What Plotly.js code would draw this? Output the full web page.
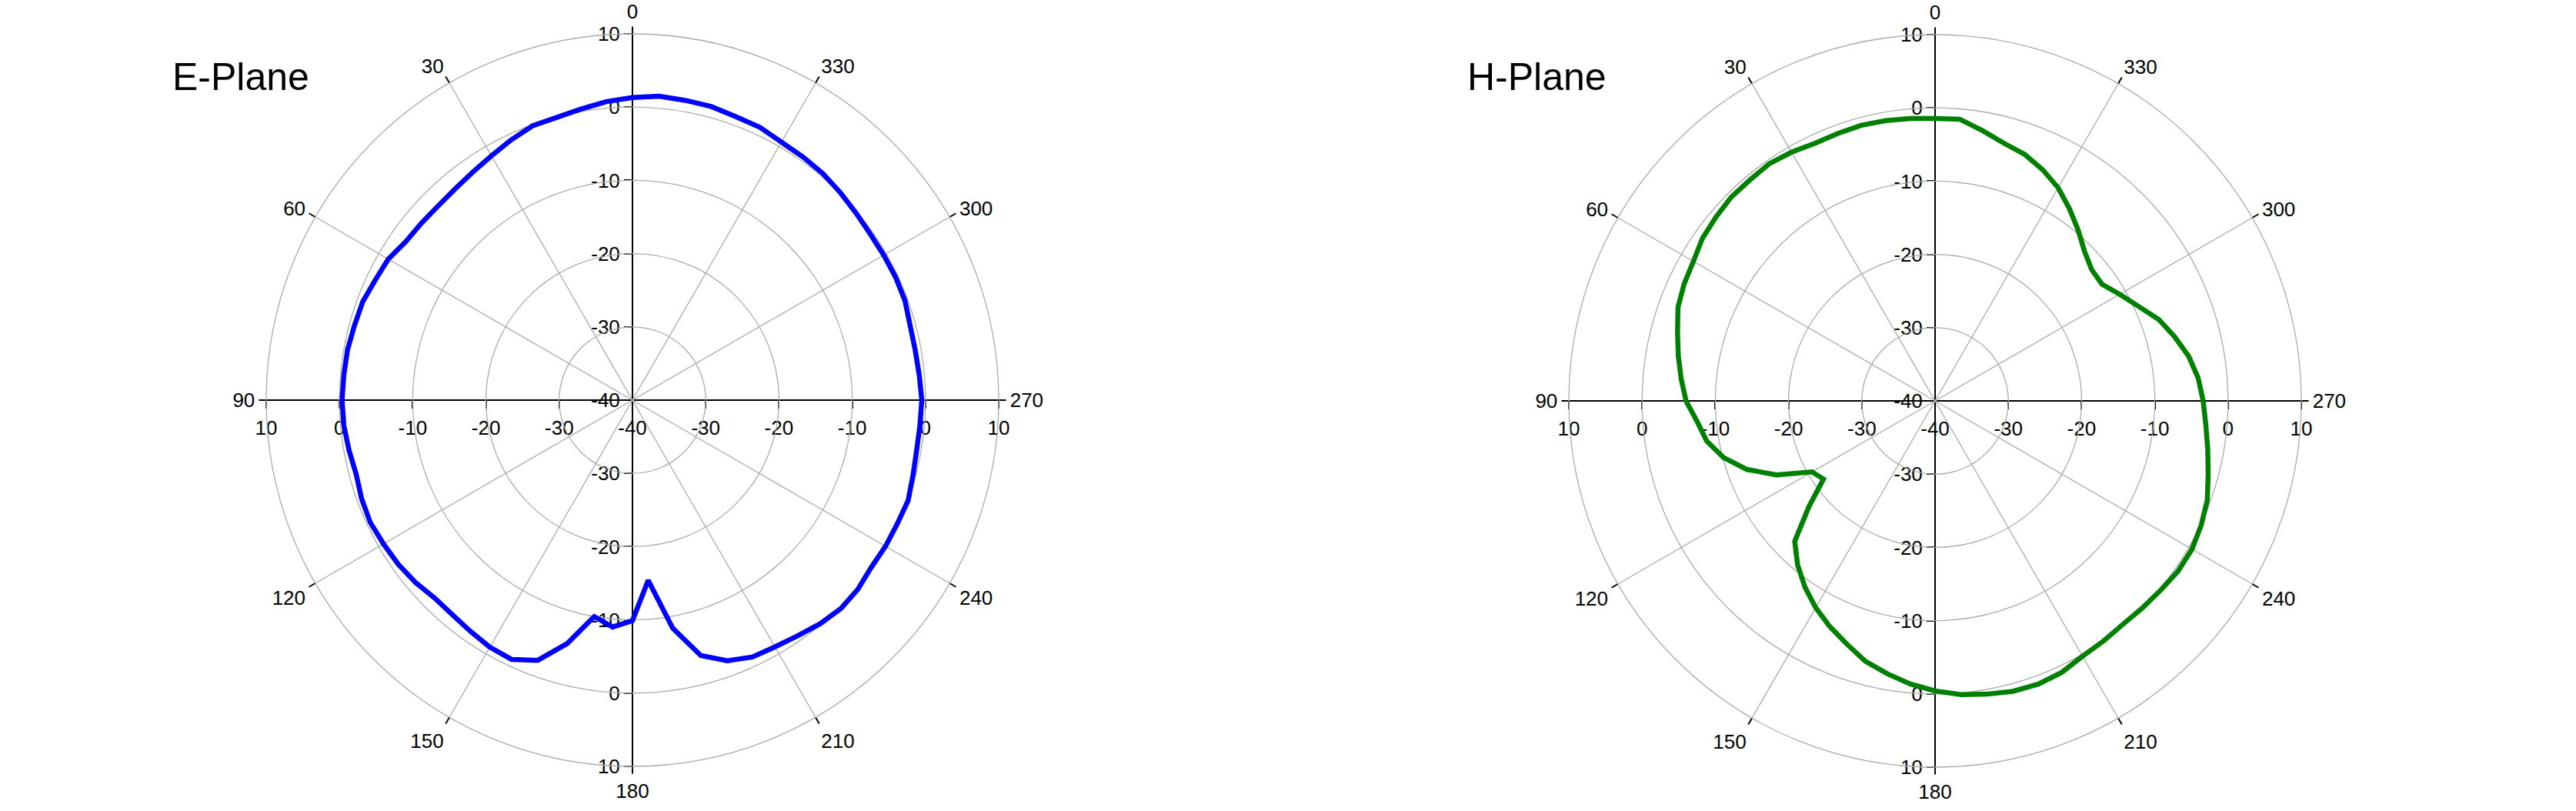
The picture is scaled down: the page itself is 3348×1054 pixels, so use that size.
<!DOCTYPE html>
<html>
<head>
<meta charset="utf-8">
<script src="https://cdn.plot.ly/plotly-3.0.1.min.js"></script>
<style>html,body{margin:0;padding:0;background:#fff;}#chart{width:3348px;height:1054px;}</style>
</head>
<body>
<div id="chart"></div>
<script>
// Angles (degrees) of the measured points
var angles = [0,5,10,15,20,25,30,35,40,45,50,55,60,65,70,75,80,85,
              90,95,100,105,110,115,120,125,130,135,140,145,150,155,160,165,170,175,
              180,185,190,195,200,205,210,215,220,225,230,235,240,245,250,255,260,265,
              270,275,280,285,290,295,300,305,310,315,320,325,330,335,340,345,350,355];

// E-Plane gain (dB)
var ePlane = [1.3,0.9,0.35,-0.05,-0.15,-0.8,-1.5,-2.0,-2.35,-2.5,-2.4,-2.25,-1.5,-1.25,-0.8,-0.7,-0.5,-0.45,
              -0.35,-0.45,-0.7,-0.95,-0.65,-0.5,-0.75,-0.95,-1.3,-1.8,-1.75,-1.45,-1.05,-0.95,-2.2,-5.6,-10.0,-8.9,
              -9.9,-15.3,-8.4,-3.9,-2.15,-1.3,-1.1,-0.7,-0.15,0.25,0.17,-0.2,-0.1,-0.1,0.05,-0.35,-0.6,-0.6,
              -0.5,-0.7,-0.8,-0.75,-0.4,-0.35,-0.4,-0.4,-0.2,0.1,0.4,0.55,0.67,1.1,1.2,1.5,1.55,1.65];

// H-Plane gain (dB)
var hPlane = [-1.45,-1.3,-1.15,-1.05,-1.15,-1.2,-0.8,-0.5,-0.65,-0.65,-0.95,-1.25,-1.9,-2.2,-2.65,-3.6,-4.4,-5.2,
              -6.0,-7.4,-8.35,-10.1,-12.65,-16.1,-20.6,-21.4,-17.5,-12.9,-10.8,-9.0,-7.4,-6.0,-4.7,-3.2,-2.2,-1.2,
              -0.4,0.25,0.65,1.05,1.15,0.9,0.25,0.05,-0.15,0.0,0.2,0.5,0.5,0.1,-0.45,-1.4,-2.2,-2.9,
              -3.4,-3.95,-4.85,-6.15,-7.5,-9.4,-10.9,-12.2,-12.1,-11.15,-9.6,-8.0,-6.4,-5.2,-4.2,-3.6,-2.55,-1.4];

// Tick labels
var angTickVals = [0,30,60,90,120,150,180,210,240,270,300,330];
var angTickText = ['0','30','60','90','120','150','180','210','240','270','300','330'];
var gridAngles = [30,60,120,150,210,240,300,330];
var radialRange = [-40,10];
var ringVals = [-30,-20,-10,0];
var crossTickVals = [-50,-40,-30,-20,-10,0,10,20,30,40,50];
var crossTickText = ['10','0','-10','-20','-30','-40','-30','-20','-10','0','10'];
var titles = ['E-Plane','H-Plane'];

var W = 3348, H = 1054, R = 476;
var centers = [[822,520],[2515,521]];
var FONT = 'Liberation Sans, Arial, Helvetica, sans-serif';
var GRID = '#ababab';
var FS = 26;

function dom(c){
  return {
    x:[(c[0]-R)/W,(c[0]+R)/W],
    y:[1-(c[1]+R)/H,1-(c[1]-R)/H]
  };
}

var layout = {
  width: W, height: H,
  margin:{l:0,r:0,t:0,b:0},
  paper_bgcolor:'#ffffff',
  plot_bgcolor:'rgba(0,0,0,0)',
  showlegend:false,
  font:{family:FONT,size:FS,color:'#000'},
  annotations:[]
};

function gridPolar(d){
  return {
    domain:{x:d.x,y:d.y},
    bgcolor:'rgba(0,0,0,0)',
    angularaxis:{direction:'counterclockwise',rotation:90,tickmode:'array',tickvals:gridAngles,
      showticklabels:false,ticks:'',showgrid:true,gridcolor:GRID,gridwidth:1.3,
      showline:true,linecolor:GRID,linewidth:1.3},
    radialaxis:{range:radialRange,tickmode:'array',tickvals:ringVals,showticklabels:false,ticks:'',
      showgrid:true,gridcolor:GRID,gridwidth:1.3,showline:false}
  };
}
function dataPolar(d){
  return {
    domain:{x:d.x,y:d.y},
    bgcolor:'rgba(0,0,0,0)',
    angularaxis:{direction:'counterclockwise',rotation:90,tickmode:'array',tickvals:angTickVals,
      ticktext:angTickText,ticks:'outside',ticklen:9,tickwidth:2,tickcolor:'#000',
      showgrid:false,showline:false,tickfont:{family:FONT,size:FS,color:'#000'}},
    radialaxis:{range:radialRange,visible:false,showgrid:false}
  };
}
function crossX(d,c){
  return {domain:d.x,range:[-50,50],anchor:'free',position:1-c[1]/H,showline:true,linecolor:'#000',linewidth:2,
    ticks:'outside',ticklen:10,tickwidth:2,tickcolor:'#000',tickmode:'array',tickvals:crossTickVals,
    ticktext:crossTickText,showgrid:false,zeroline:false,fixedrange:true,
    tickfont:{family:FONT,size:FS,color:'#000'},ticklabelstandoff:3};
}
function crossY(d,c){
  return {domain:d.y,range:[-50,50],anchor:'free',position:c[0]/W,side:'left',showline:true,linecolor:'#000',linewidth:2,
    ticks:'outside',ticklen:10,tickwidth:2,tickcolor:'#000',tickmode:'array',tickvals:crossTickVals,
    ticktext:crossTickText,showgrid:false,zeroline:false,fixedrange:true,
    tickfont:{family:FONT,size:FS,color:'#000'}};
}

var d0 = dom(centers[0]), d1 = dom(centers[1]);
layout.polar = gridPolar(d0);
layout.polar2 = gridPolar(d1);
layout.polar3 = dataPolar(d0);
layout.polar4 = dataPolar(d1);
layout.xaxis = crossX(d0,centers[0]);
layout.yaxis = crossY(d0,centers[0]);
layout.xaxis2 = crossX(d1,centers[1]);
layout.yaxis2 = crossY(d1,centers[1]);

layout.annotations.push({text:titles[0],xref:'paper',yref:'paper',x:222/W,y:1-100/H,xanchor:'left',yanchor:'middle',
  showarrow:false,font:{family:FONT,size:50,color:'#000'}});
layout.annotations.push({text:titles[1],xref:'paper',yref:'paper',x:1905/W,y:1-100/H,xanchor:'left',yanchor:'middle',
  showarrow:false,font:{family:FONT,size:50,color:'#000'}});

var traces = [
  // empty traces to bind the cartesian cross axes and grid polars
  {type:'scatter',x:[],y:[],xaxis:'x',yaxis:'y',hoverinfo:'skip'},
  {type:'scatter',x:[],y:[],xaxis:'x2',yaxis:'y2',hoverinfo:'skip'},
  {type:'scatterpolar',subplot:'polar',r:[],theta:[],hoverinfo:'skip'},
  {type:'scatterpolar',subplot:'polar2',r:[],theta:[],hoverinfo:'skip'},
  {type:'scatterpolar',subplot:'polar3',mode:'lines',name:titles[0],
    r:ePlane.concat([ePlane[0]]),theta:angles.concat([angles[0]]),
    line:{color:'#0000ff',width:6.5}},
  {type:'scatterpolar',subplot:'polar4',mode:'lines',name:titles[1],
    r:hPlane.concat([hPlane[0]]),theta:angles.concat([angles[0]]),
    line:{color:'#008000',width:6.5}}
];

Plotly.newPlot('chart',traces,layout,{staticPlot:true,displayModeBar:false});
</script>
</body>
</html>
